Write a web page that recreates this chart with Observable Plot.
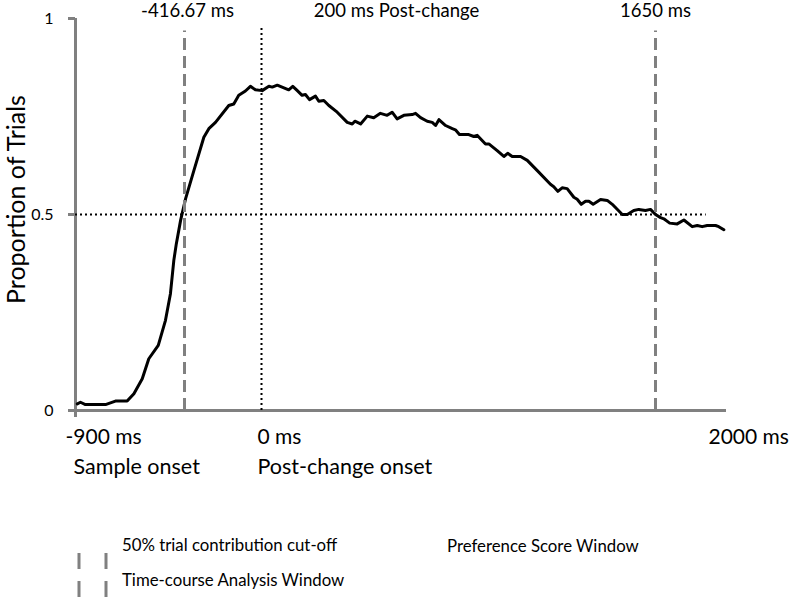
<!DOCTYPE html>
<html>
<head>
<meta charset="utf-8">
<script src="https://cdn.jsdelivr.net/npm/d3@7"></script>
<script src="https://cdn.jsdelivr.net/npm/@observablehq/plot@0.6"></script>
<style>
  html, body { margin: 0; padding: 0; background: #fff; }
  #wrap { position: relative; width: 789px; height: 597px; font-family: Lato, "Open Sans", sans-serif; color: #000; overflow: hidden; }
  #chart svg { display: block; }
  .leg { position: absolute; font-size: 16.8px; white-space: nowrap; line-height: 1; }
</style>
</head>
<body>
<div id="wrap">
  <div id="chart"></div>
  <div id="legend"></div>
</div>
<script>
// ---- data ----
const timeMs = [-892,-878,-856,-767,-723,-671,-641,-604,-575,-533,-501,-479,-464,-453,-434,
  -411,-366,-312,-285,-249,-177,-150,-123,-87,-60,-33,
  3,31,45,66,114,131,150,170,184,201,226,240,261,282,317,359,380,391,415,443,470,498,526,547,568,596,631,645,666,694,
  715,729,743,771,799,812,829,868,889,903,938,952,987,1015,1031,1050,1085,1113,1155,1210,1224,1241,1259,1280,1308,
  1322,1339,1357,1371,1389,1420,1448,1469,1511,1532,1559,1580,1608,1629,
  1650,1675,1691,1720,1757,1790,1831,1856,1880,1905,1946,1962,1987];
const proportion = [0.017,0.021,0.015,0.015,0.024,0.024,0.043,0.081,0.132,0.166,0.230,0.298,0.383,0.425,0.485,
  0.540,0.612,0.697,0.719,0.735,0.778,0.782,0.804,0.815,0.827,0.818,
  0.816,0.827,0.825,0.830,0.818,0.827,0.816,0.804,0.806,0.793,0.802,0.789,0.791,0.778,0.761,0.735,0.731,0.738,0.731,0.751,
  0.747,0.758,0.753,0.761,0.744,0.753,0.755,0.758,0.747,0.738,0.735,0.727,0.742,0.727,0.719,0.716,0.704,0.704,0.699,0.702,
  0.680,0.680,0.663,0.648,0.656,0.648,0.648,0.638,0.612,0.577,0.571,0.559,0.568,0.566,0.544,0.539,0.526,0.534,0.534,0.526,
  0.538,0.536,0.526,0.500,0.500,0.510,0.513,0.510,0.513,
  0.500,0.492,0.489,0.478,0.476,0.486,0.469,0.472,0.469,0.472,0.472,0.469,0.461];

const xAxisTicks = [-900, -416.67, 0, 1650, 2000];
const cutoffTimes = [-416.67, 1650];
const changeOnset = 0;
const halfLevel = 0.5;
const halfLevelEnd = 1900;
const yTicks = [0, 0.5, 1];
const topLabels = ["-416.67 ms", "200 ms Post-change", "1650 ms"];
const topLabelAt = [-416.67, 0, 1650];
const bottomLabels = ["-900 ms", "0 ms", "2000 ms"];
const bottomLabelAt = [-900, 0, 2000];
const subLabels = ["Sample onset", "Post-change onset"];
const subLabelAt = [-900, 0];
const yTitle = "Proportion of Trials";
const legendItems = ["50% trial contribution cut-off", "Time-course Analysis Window", "Preference Score Window"];

const series = timeMs.map((t, i) => ({t, p: proportion[i]}));
const gray = "#808080";

// The reference's time axis is not uniform: the marked times sit at these relative offsets along the axis.
const warp = d3.scaleLinear().domain(xAxisTicks).range([0, 109, 186, 580, 651]);

const plot = Plot.plot({
  width: 789,
  height: 500,
  marginLeft: 75,
  marginRight: 63,
  marginTop: 18,
  marginBottom: 90,
  style: {fontFamily: "Lato, 'Open Sans', sans-serif", background: "#fff", color: "#000", overflow: "visible"},
  x: {transform: warp, domain: [warp(-900), warp(2000)]},
  y: {domain: [0, 1]},
  marks: [
    // axis lines
    Plot.ruleX([-900], {y1: 0, y2: 1, stroke: gray, strokeWidth: 3}),
    Plot.ruleY([0], {x1: -900, x2: 2000, stroke: gray, strokeWidth: 3}),
    Plot.axisY({ticks: yTicks, tickSize: 7, tickPadding: 15, fontSize: 16, stroke: gray, strokeWidth: 3, label: null, tickFormat: d => String(d)}),
    Plot.axisX({ticks: xAxisTicks, tickSize: 7, tickPadding: 0, stroke: gray, strokeWidth: 3, label: null, tickFormat: () => ""}),
    // data
    Plot.line(series, {x: "t", y: "p", stroke: "black", strokeWidth: 3, strokeLinejoin: "round"}),
    // reference lines
    Plot.ruleY([halfLevel], {x1: -900, x2: halfLevelEnd, stroke: "black", strokeWidth: 2, strokeDasharray: "2,3"}),
    Plot.ruleX([changeOnset], {y1: 0, y2: 0.977, stroke: "black", strokeWidth: 2, strokeDasharray: "2,3"}),
    Plot.ruleX(cutoffTimes, {y1: 0, y2: 0.968, stroke: gray, strokeWidth: 3, strokeDasharray: "12,6"}),
    // top labels
    Plot.text([topLabels[0]], {x: () => topLabelAt[0], y: () => 1, text: d => d, fontSize: 18.5, lineAnchor: "middle", dy: -7, dx: 3, textAnchor: "middle"}),
    Plot.text([topLabels[1]], {x: () => topLabelAt[1], y: () => 1, text: d => d, fontSize: 18.5, lineAnchor: "middle", dy: -7, dx: 135, textAnchor: "middle"}),
    Plot.text([topLabels[2]], {x: () => topLabelAt[2], y: () => 1, text: d => d, fontSize: 18.5, lineAnchor: "middle", dy: -7, dx: 0, textAnchor: "middle"}),
    // bottom labels
    Plot.text([bottomLabels[0]], {x: () => bottomLabelAt[0], y: () => 0, text: d => d, textAnchor: "start", dx: -10, dy: 27, fontSize: 21, lineAnchor: "middle"}),
    Plot.text([bottomLabels[1]], {x: () => bottomLabelAt[1], y: () => 0, text: d => d, textAnchor: "start", dx: -4, dy: 27, fontSize: 21, lineAnchor: "middle"}),
    Plot.text([bottomLabels[2]], {x: () => bottomLabelAt[2], y: () => 0, text: d => d, textAnchor: "start", dx: -18, dy: 27, fontSize: 21, lineAnchor: "middle"}),
    Plot.text([subLabels[0]], {x: () => subLabelAt[0], y: () => 0, text: d => d, textAnchor: "start", dx: -2, dy: 57, fontSize: 21.5, lineAnchor: "middle"}),
    Plot.text([subLabels[1]], {x: () => subLabelAt[1], y: () => 0, text: d => d, textAnchor: "start", dx: -4, dy: 57, fontSize: 21.5, lineAnchor: "middle"}),
    // y title
    Plot.text([yTitle], {frameAnchor: "left", text: d => d, rotate: -90, dx: -59, dy: -15, fontSize: 25, lineAnchor: "middle", textAnchor: "middle"})
  ]
});
document.getElementById("chart").appendChild(plot);

// legend
const leg = document.getElementById("legend");
const dashSvg = `<svg style="position:absolute;left:0;top:0" width="789" height="597">
  <line x1="79" y1="553" x2="79" y2="597" stroke="${gray}" stroke-width="3" stroke-dasharray="16,12"/>
  <line x1="106" y1="553" x2="106" y2="597" stroke="${gray}" stroke-width="3" stroke-dasharray="16,12"/>
</svg>`;
leg.innerHTML = dashSvg +
  `<div class="leg" style="left:122px;top:537px">${legendItems[0]}</div>` +
  `<div class="leg" style="left:122px;top:572px">${legendItems[1]}</div>` +
  `<div class="leg" style="left:447px;top:538px">${legendItems[2]}</div>`;
</script>
</body>
</html>
